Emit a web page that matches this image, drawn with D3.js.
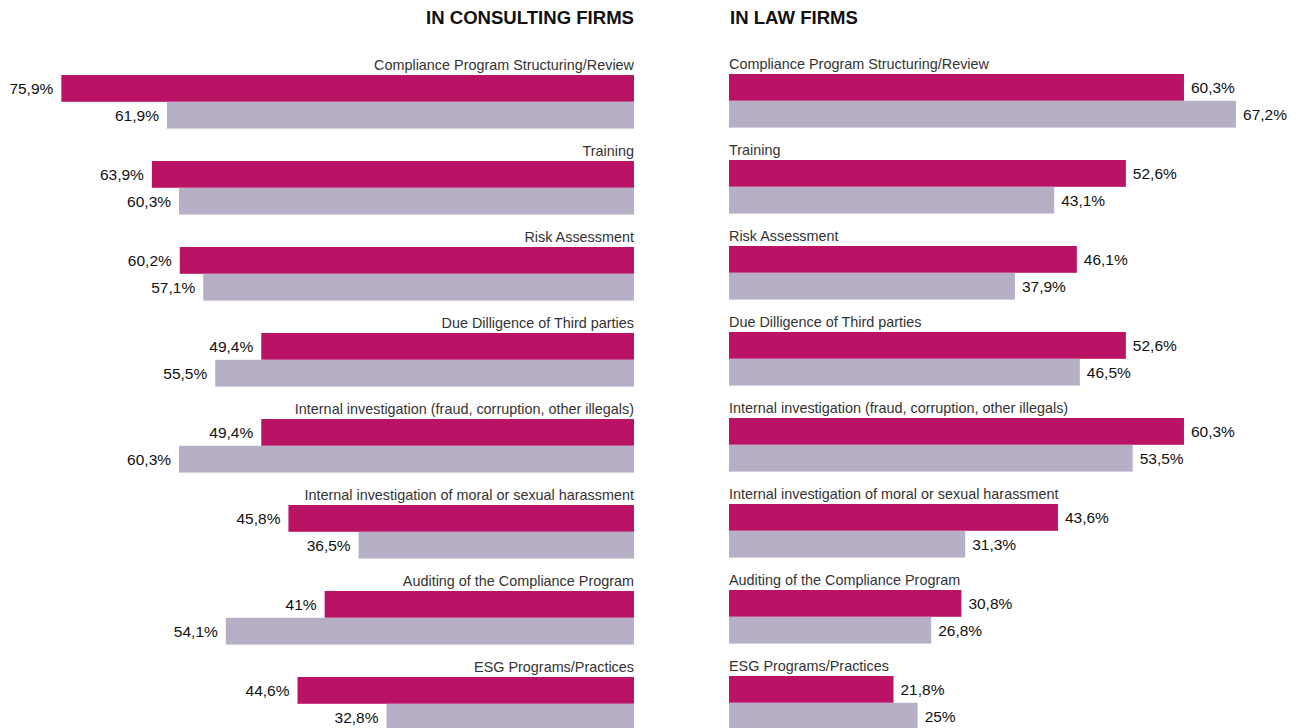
<!DOCTYPE html>
<html><head><meta charset="utf-8">
<script src="https://cdn.jsdelivr.net/npm/d3@7"></script>
<style>
html,body{margin:0;padding:0;background:#fff;}
svg{display:block;font-family:"Liberation Sans",Arial,Helvetica,sans-serif;}
</style></head>
<body><svg id="chart" width="1304" height="728"></svg>
<script>
const categories = [
  "Compliance Program Structuring/Review",
  "Training",
  "Risk Assessment",
  "Due Dilligence of Third parties",
  "Internal investigation (fraud, corruption, other illegals)",
  "Internal investigation of moral or sexual harassment",
  "Auditing of the Compliance Program",
  "ESG Programs/Practices"
];
const consultingA = [75.9, 63.9, 60.2, 49.4, 49.4, 45.8, 41, 44.6];
const consultingB = [61.9, 60.3, 57.1, 55.5, 60.3, 36.5, 54.1, 32.8];
const lawA = [60.3, 52.6, 46.1, 52.6, 60.3, 43.6, 30.8, 21.8];
const lawB = [67.2, 43.1, 37.9, 46.5, 53.5, 31.3, 26.8, 25];
const panelTitles = ["IN CONSULTING FIRMS", "IN LAW FIRMS"];

const colorA = "#ba1264", colorB = "#b6afc5";
const svg = d3.select("#chart");
const fmt = v => String(v).replace(".", ",") + "%";

const y = d3.scaleBand().domain(categories).range([75, 75 + 86 * 8]).paddingInner(0).paddingOuter(0);
const barH = 26.8;

const xL = d3.scaleLinear().domain([0, 80]).range([634, 634 - 603.6]);
const xR = d3.scaleLinear().domain([0, 80]).range([729, 729 + 603.6]);

function panel(xs, A, B, side, title, titleX, dy) {
  const g = svg.append("g").attr("transform", `translate(0,${dy})`);
  g.append("text").attr("x", titleX).attr("y", 24 - dy)
    .attr("text-anchor", side === "left" ? "end" : "start")
    .attr("font-weight", "bold").attr("font-size", 19).attr("fill", "#111")
    .attr("textLength", side === "left" ? 208 : 128).attr("lengthAdjust", "spacingAndGlyphs")
    .text(title);
  const grp = g.selectAll("g.cat").data(categories).join("g").attr("class", "cat");
  const x0 = xs(0);
  grp.append("text")
    .attr("x", x0).attr("y", d => y(d) - 5.5)
    .attr("text-anchor", side === "left" ? "end" : "start")
    .attr("font-size", 14.4).attr("fill", "#333")
    .text(d => d);
  [[A, colorA, 0], [B, colorB, barH]].forEach(([vals, col, off]) => {
    grp.append("rect")
      .attr("x", (d, i) => Math.min(x0, xs(vals[i])))
      .attr("y", d => y(d) + off)
      .attr("width", (d, i) => Math.abs(xs(vals[i]) - x0))
      .attr("height", barH)
      .attr("fill", col);
    grp.append("text")
      .attr("x", (d, i) => side === "left" ? xs(vals[i]) - 8 : xs(vals[i]) + 7)
      .attr("y", d => y(d) + off + barH / 2 + 5.5)
      .attr("text-anchor", side === "left" ? "end" : "start")
      .attr("font-size", 15.5).attr("fill", "#111")
      .text((d, i) => fmt(vals[i]));
  });
}
panel(xL, consultingA, consultingB, "left", panelTitles[0], 634, 0);
panel(xR, lawA, lawB, "right", panelTitles[1], 730, -1);
</script></body></html>
